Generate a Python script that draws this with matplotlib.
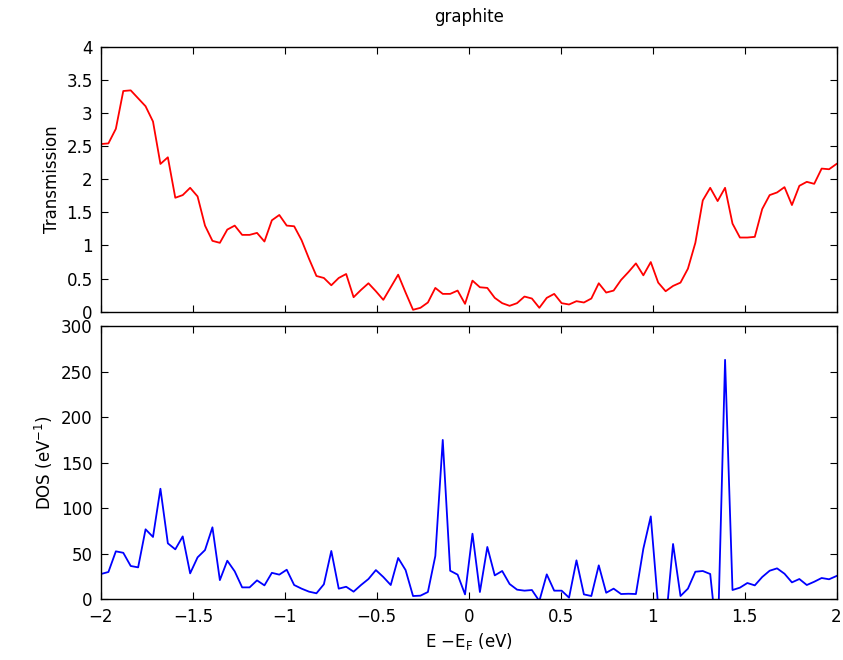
import numpy as np
import matplotlib
matplotlib.use("Agg")
import matplotlib.pyplot as plt

# energy grid, E - E_F (eV)
energy = np.linspace(-2, 2, 100)

transmission = [
    2.53, 2.54, 2.76, 3.33, 3.34, 3.22, 3.10, 2.87, 2.23, 2.33,
    1.72, 1.76, 1.87, 1.74, 1.30, 1.07, 1.04, 1.24, 1.30, 1.16,
    1.16, 1.19, 1.06, 1.38, 1.46, 1.30, 1.29, 1.08, 0.80, 0.54,
    0.51, 0.40, 0.51, 0.57, 0.22, 0.33, 0.43, 0.31, 0.18, 0.37,
    0.56, 0.29, 0.03, 0.06, 0.14, 0.36, 0.27, 0.27, 0.32, 0.12,
    0.47, 0.37, 0.36, 0.21, 0.13, 0.09, 0.13, 0.23, 0.20, 0.06,
    0.21, 0.27, 0.13, 0.11, 0.16, 0.14, 0.20, 0.43, 0.29, 0.32,
    0.48, 0.60, 0.73, 0.55, 0.75, 0.44, 0.31, 0.39, 0.44, 0.65,
    1.04, 1.68, 1.87, 1.67, 1.87, 1.33, 1.12, 1.12, 1.13, 1.55,
    1.76, 1.80, 1.88, 1.61, 1.90, 1.96, 1.93, 2.16, 2.15, 2.23,
]

dos = [
    27.7, 29.9, 52.6, 51.0, 36.5, 35.0, 76.8, 68.4, 121.4, 61.4,
    54.8, 69.0, 28.4, 46.0, 54.0, 79.0, 21.0, 42.3, 30.6, 13.0,
    13.0, 20.7, 15.2, 29.0, 27.0, 32.4, 15.6, 11.6, 8.3, 6.5,
    16.4, 53.0, 11.6, 13.7, 8.3, 15.6, 22.2, 32.0, 24.4, 15.6,
    45.3, 32.0, 3.5, 3.9, 7.9, 47.5, 175.0, 31.3, 27.0, 5.3,
    72.0, 7.9, 57.4, 26.2, 31.0, 16.7, 10.5, 9.4, 10.1, -2.0,
    27.3, 9.4, 9.4, 1.7, 42.7, 5.3, 3.5, 37.2, 7.1, 11.6,
    5.7, 6.0, 5.7, 55.5, 91.0, -8.0, -27.0, 60.7, 3.5, 11.6,
    30.2, 31.0, 27.7, -50.0, 263.0, 10.1, 12.7, 17.8, 15.2, 24.4,
    31.3, 33.9, 28.0, 18.5, 22.2, 15.6, 19.2, 23.3, 21.9, 25.5,
]

plt.rcParams['font.family'] = ['DejaVu Sans']
plt.rcParams['font.size'] = 12
plt.rcParams['mathtext.default'] = 'regular'
plt.rcParams['xtick.direction'] = 'in'
plt.rcParams['ytick.direction'] = 'in'
plt.rcParams['xtick.top'] = True
plt.rcParams['ytick.right'] = True
plt.rcParams['xtick.major.size'] = 5
plt.rcParams['ytick.major.size'] = 5
plt.rcParams['xtick.major.pad'] = 6
plt.rcParams['ytick.major.pad'] = 6
plt.rcParams['axes.linewidth'] = 1.0

fig = plt.figure(figsize=(8.43, 6.6), dpi=100)
ax1 = fig.add_axes([0.1198, 0.5276, 0.8725, 0.4018])
ax2 = fig.add_axes([0.1198, 0.0921, 0.8725, 0.4137])

ax1.plot(energy, transmission, color='red', lw=1.3)
ax1.set_xlim(-2, 2)
ax1.set_ylim(0, 4)
ax1.set_yticks(np.arange(0, 4.01, 0.5))
ax1.set_yticklabels(['0', '0.5', '1', '1.5', '2', '2.5', '3', '3.5', '4'])
ax1.set_xticks(np.arange(-2, 2.01, 0.5))
ax1.tick_params(labelbottom=False)
ax1.set_ylabel('Transmission')
ax1.set_title('graphite', fontsize=12, pad=18)

ax2.plot(energy, dos, color='blue', lw=1.3)
ax2.set_xlim(-2, 2)
ax2.set_ylim(0, 300)
ax2.set_yticks(np.arange(0, 301, 50))
ax2.set_xticks(np.arange(-2, 2.01, 0.5))
ax2.set_xticklabels(['\u22122', '\u22121.5', '\u22121', '\u22120.5', '0', '0.5', '1', '1.5', '2'])
ax2.set_xlabel(r'E $-$E$_F$ (eV)')
ax2.set_ylabel(r'DOS (eV$^{-1}$)')

fig.savefig('out.png', dpi=100, facecolor='white')
